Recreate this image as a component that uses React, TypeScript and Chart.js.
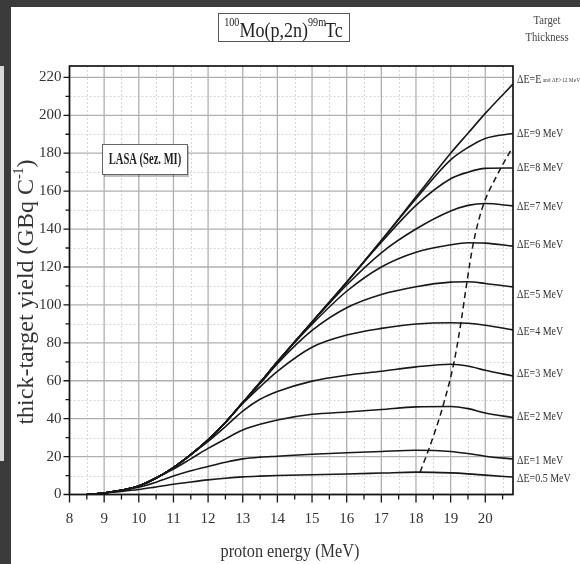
import React, { useEffect, useRef } from "react";
import { Chart, registerables } from "chart.js";

Chart.register(...registerables);

// ---- data ----
const energy = [8.5, 9, 9.5, 10, 10.5, 11, 11.5, 12, 12.5, 13, 13.5, 14, 15, 16, 17, 18, 19, 19.5, 20, 20.8];

const yieldFull = [0, 0.8, 2.2, 4.5, 8.7, 14.2, 21, 28.8, 38, 48.5, 59, 70, 91, 112, 134, 157, 180, 190.5, 201, 216.5];
const yield9 = [0, 0.8, 2.2, 4.5, 8.7, 14.2, 21, 28.8, 38, 48.5, 59, 70, 91, 112, 134, 156, 176.5, 183, 187.8, 190.4];
const yield8 = [0, 0.8, 2.2, 4.5, 8.7, 14.2, 21, 28.8, 38, 48.5, 59, 70, 91, 112, 133, 152.5, 166.5, 170, 172, 172.2];
const yield7 = [0, 0.8, 2.2, 4.5, 8.7, 14.2, 21, 28.8, 38, 48.5, 59, 70, 90.8, 110.5, 127.5, 140, 149.5, 152.5, 153.5, 152.2];
const yield6 = [0, 0.8, 2.2, 4.5, 8.7, 14.2, 21, 28.8, 38, 48.5, 59, 70, 89.8, 107.2, 120, 127.8, 131.7, 132.8, 132.6, 131];
const yield5 = [0, 0.8, 2.2, 4.5, 8.7, 14.2, 21, 28.8, 38, 48.5, 58.5, 69, 86.5, 98.5, 105.5, 109.6, 112, 112.2, 111.3, 109.5];
const yield4 = [0, 0.8, 2.2, 4.5, 8.7, 14.2, 21, 28.8, 38, 48, 56.8, 65, 77.7, 84.1, 87.6, 89.9, 90.6, 90.3, 89.3, 86.8];
const yield3 = [0, 0.8, 2.2, 4.5, 8.7, 14.2, 21, 28, 35.8, 44, 50.2, 54.3, 59.8, 62.9, 65, 67.3, 68.7, 67.8, 65.5, 62.5];
const yield2 = [0, 0.8, 2.2, 4.5, 8.7, 13.4, 18.8, 24.3, 29.3, 34, 37, 39.3, 42.3, 43.5, 44.8, 46.2, 46.4, 45.3, 43, 40.6];
const yield1 = [0, 0.8, 2.2, 3.8, 6.5, 9.7, 12.5, 14.8, 17, 18.8, 19.7, 20.2, 21.2, 22, 22.7, 23.3, 22.7, 21.6, 20.2, 18.7];
const yield05 = [0, 0.8, 1.6, 2.6, 4, 5.4, 6.6, 7.7, 8.6, 9.3, 9.7, 10, 10.4, 10.8, 11.3, 11.8, 11.4, 10.9, 10.2, 9.2];

const seriesValues = [yieldFull, yield9, yield8, yield7, yield6, yield5, yield4, yield3, yield2, yield1, yield05];
const seriesLabels = ["ΔE=E", "ΔE=9 MeV", "ΔE=8 MeV", "ΔE=7 MeV", "ΔE=6 MeV", "ΔE=5 MeV", "ΔE=4 MeV", "ΔE=3 MeV", "ΔE=2 MeV", "ΔE=1 MeV", "ΔE=0.5 MeV"];
const labelYields = [219, 190.4, 172.4, 152, 131.7, 105.3, 85.8, 63.7, 41.1, 17.9, 8.1];
const fullLabelNote = " and ΔE>12 MeV";

// locus of the maxima (dashed)
const maxEnergy = [18.12, 18.45, 18.8, 19.1, 19.3, 19.47, 19.66, 19.93, 20.3, 20.75];
const maxYield = [11.8, 28, 48, 70, 91, 112, 133, 152, 167, 182];

// axes / ticks
const xMin = 8;
const xMax = 20.8;
const yMin = 0;
const yMax = 226;
const xMajorTicks = [8, 9, 10, 11, 12, 13, 14, 15, 16, 17, 18, 19, 20];
const xMinorTicks = [8.5, 9.5, 10.5, 11.5, 12.5, 13.5, 14.5, 15.5, 16.5, 17.5, 18.5, 19.5, 20.5];
const yMajorTicks = [0, 20, 40, 60, 80, 100, 120, 140, 160, 180, 200, 220];
const yMinorTicks = [10, 30, 50, 70, 90, 110, 130, 150, 170, 190, 210];

const titleParts = ["100", "Mo(p,2n)", "99m", "Tc"];
const xTitle = "proton energy (MeV)";
const yTitleMain = "thick-target yield (GBq C";
const yTitleSup = "-1";
const yTitleEnd = ")";
const cornerTitle = ["Target", "Thickness"];
const boxNote = "LASA (Sez. MI)";

const FONT = '"Liberation Serif", "Times New Roman", serif';

function drawText(
  ctx: CanvasRenderingContext2D,
  s: string,
  x: number,
  y: number,
  size: number,
  opts: { align?: CanvasTextAlign; baseline?: CanvasTextBaseline; bold?: boolean; sx?: number; color?: string } = {}
) {
  const sx = opts.sx ?? 1;
  ctx.save();
  ctx.font = `${opts.bold ? "bold " : ""}${size}px ${FONT}`;
  ctx.textAlign = opts.align ?? "left";
  ctx.textBaseline = opts.baseline ?? "alphabetic";
  ctx.fillStyle = opts.color ?? "#333";
  ctx.translate(x, y);
  ctx.scale(sx, 1);
  ctx.fillText(s, 0, 0);
  ctx.restore();
}

function textWidth(ctx: CanvasRenderingContext2D, s: string, size: number, sx = 1, bold = false) {
  ctx.save();
  ctx.font = `${bold ? "bold " : ""}${size}px ${FONT}`;
  const w = ctx.measureText(s).width * sx;
  ctx.restore();
  return w;
}

const decorPlugin = {
  id: "decor",
  beforeDatasetsDraw(chart: any) {
    const { ctx, chartArea: a, scales } = chart;
    const xs = scales.x;
    const ys = scales.y;
    ctx.save();
    // minor grid
    ctx.strokeStyle = "#d6d6d6";
    ctx.lineWidth = 1;
    ctx.setLineDash([2, 2]);
    ctx.beginPath();
    for (const v of xMinorTicks) {
      const px = Math.round(xs.getPixelForValue(v)) + 0.5;
      ctx.moveTo(px, a.top);
      ctx.lineTo(px, a.bottom);
    }
    for (const v of yMinorTicks) {
      const py = Math.round(ys.getPixelForValue(v)) + 0.5;
      ctx.moveTo(a.left, py);
      ctx.lineTo(a.right, py);
    }
    ctx.stroke();
    // major grid
    ctx.setLineDash([]);
    ctx.strokeStyle = "#b0b0b0";
    ctx.lineWidth = 1.3;
    ctx.beginPath();
    for (const v of xMajorTicks) {
      const px = xs.getPixelForValue(v);
      ctx.moveTo(px, a.top);
      ctx.lineTo(px, a.bottom);
    }
    for (const v of yMajorTicks) {
      const py = ys.getPixelForValue(v);
      ctx.moveTo(a.left, py);
      ctx.lineTo(a.right, py);
    }
    ctx.stroke();
    ctx.restore();
  },
  afterDraw(chart: any) {
    const { ctx, chartArea: a, scales } = chart;
    const xs = scales.x;
    const ys = scales.y;
    ctx.save();
    // frame
    ctx.strokeStyle = "#151515";
    ctx.lineWidth = 1.7;
    ctx.strokeRect(a.left, a.top, a.right - a.left, a.bottom - a.top);
    // tick marks
    ctx.lineWidth = 1.3;
    ctx.beginPath();
    for (const v of xMajorTicks) {
      const px = xs.getPixelForValue(v);
      ctx.moveTo(px, a.bottom);
      ctx.lineTo(px, a.bottom + 8);
    }
    for (const v of xMinorTicks) {
      const px = xs.getPixelForValue(v);
      ctx.moveTo(px, a.bottom);
      ctx.lineTo(px, a.bottom + 5);
    }
    for (const v of yMajorTicks) {
      const py = ys.getPixelForValue(v);
      ctx.moveTo(a.left - 6, py);
      ctx.lineTo(a.left, py);
    }
    for (const v of yMinorTicks) {
      const py = ys.getPixelForValue(v);
      ctx.moveTo(a.left - 4, py);
      ctx.lineTo(a.left, py);
    }
    ctx.stroke();

    // right-hand curve labels
    seriesLabels.forEach((lab, i) => {
      const py = ys.getPixelForValue(labelYields[i]);
      const lx = a.right + 4;
      drawText(ctx, lab, lx, py, 12.5, { baseline: "middle", sx: 0.8, color: "#333" });
      if (i === 0) {
        const w = textWidth(ctx, lab, 12.5, 0.8);
        drawText(ctx, fullLabelNote, lx + w, py + 1, 5.5, { baseline: "middle", color: "#444" });
      }
    });

    // main title box
    ctx.fillStyle = "#fff";
    ctx.fillRect(218.5, 13.5, 131, 28);
    ctx.strokeStyle = "#555";
    ctx.lineWidth = 1;
    ctx.strokeRect(218.5, 13.5, 131, 28);
    const big = 20.5, small = 11.5, sxT = 0.88;
    const widths = [
      textWidth(ctx, titleParts[0], small, sxT),
      textWidth(ctx, titleParts[1], big, sxT),
      textWidth(ctx, titleParts[2], small, sxT),
      textWidth(ctx, titleParts[3], big, sxT),
    ];
    let tx = 284 - (widths[0] + widths[1] + widths[2] + widths[3]) / 2;
    drawText(ctx, titleParts[0], tx, 26, small, { sx: sxT, color: "#222" });
    tx += widths[0];
    drawText(ctx, titleParts[1], tx, 37, big, { sx: sxT, color: "#222" });
    tx += widths[1];
    drawText(ctx, titleParts[2], tx, 26, small, { sx: sxT, color: "#222" });
    tx += widths[2];
    drawText(ctx, titleParts[3], tx - 1, 37, big, { sx: sxT, color: "#222" });

    // corner title
    drawText(ctx, cornerTitle[0], 547, 21, 12.5, { align: "center", baseline: "middle", sx: 0.85, color: "#444" });
    drawText(ctx, cornerTitle[1], 547, 38, 12.5, { align: "center", baseline: "middle", sx: 0.85, color: "#444" });

    // LASA box
    ctx.fillStyle = "rgba(0,0,0,0.25)";
    ctx.fillRect(104, 146, 85, 31);
    ctx.fillStyle = "#fff";
    ctx.fillRect(102.5, 144.5, 85, 30);
    ctx.strokeStyle = "#666";
    ctx.lineWidth = 1;
    ctx.strokeRect(102.5, 144.5, 85, 30);
    drawText(ctx, boxNote, 145, 160, 16, { align: "center", baseline: "middle", bold: true, sx: 0.66, color: "#222" });

    // x title
    drawText(ctx, xTitle, 290, 552, 18.5, { align: "center", baseline: "middle", sx: 0.88, color: "#333" });

    // y title (rotated)
    ctx.save();
    ctx.translate(25, 292);
    ctx.rotate(-Math.PI / 2);
    const ySize = 24, ySup = 14;
    const w1 = textWidth(ctx, yTitleMain, ySize);
    const w2 = textWidth(ctx, yTitleSup, ySup);
    const w3 = textWidth(ctx, yTitleEnd, ySize);
    let ox = -(w1 + w2 + w3) / 2;
    drawText(ctx, yTitleMain, ox, 8, ySize, { color: "#333" });
    ox += w1;
    drawText(ctx, yTitleSup, ox, -2, ySup, { color: "#333" });
    ox += w2;
    drawText(ctx, yTitleEnd, ox, 8, ySize, { color: "#333" });
    ctx.restore();

    ctx.restore();
  },
};

export default function App() {
  const canvasRef = useRef<HTMLCanvasElement | null>(null);

  useEffect(() => {
    const canvas = canvasRef.current;
    if (!canvas) return;
    const datasets: any[] = seriesValues.map((vals, i) => ({
      label: seriesLabels[i],
      data: energy.map((e, j) => ({ x: e, y: vals[j] })),
      borderColor: "#181818",
      borderWidth: 1.6,
      pointRadius: 0,
      fill: false,
      cubicInterpolationMode: "monotone",
    }));
    datasets.push({
      label: "max",
      data: maxEnergy.map((e, j) => ({ x: e, y: maxYield[j] })),
      borderColor: "#181818",
      borderWidth: 1.5,
      borderDash: [6, 4],
      pointRadius: 0,
      fill: false,
      cubicInterpolationMode: "monotone",
    });

    const chart = new Chart(canvas, {
      type: "line",
      data: { datasets },
      options: {
        animation: false,
        responsive: false,
        devicePixelRatio: 1,
        layout: { padding: { top: 66, right: 67, left: 0, bottom: 0 } },
        plugins: {
          legend: { display: false },
          tooltip: { enabled: false },
          title: { display: false },
        },
        scales: {
          x: {
            type: "linear",
            min: xMin,
            max: xMax,
            afterFit: (s: any) => {
              s.height = 69.5;
            },
            grid: { display: false, drawTicks: false },
            border: { display: false },
            ticks: {
              stepSize: 1,
              includeBounds: false,
              autoSkip: false,
              maxRotation: 0,
              padding: 16,
              color: "#333",
              font: { family: FONT, size: 15 },
              callback: (v: any) => (xMajorTicks.includes(Number(v)) ? String(v) : ""),
            },
          },
          y: {
            type: "linear",
            min: yMin,
            max: yMax,
            afterFit: (s: any) => {
              s.width = 69.5;
            },
            grid: { display: false, drawTicks: false },
            border: { display: false },
            ticks: {
              stepSize: 20,
              includeBounds: false,
              autoSkip: false,
              padding: 8,
              color: "#333",
              font: { family: FONT, size: 15 },
              callback: (v: any) => (yMajorTicks.includes(Number(v)) ? String(v) : ""),
            },
          },
        },
      } as any,
      plugins: [decorPlugin],
    });
    return () => chart.destroy();
  }, []);

  return (
    <div
      style={{
        position: "fixed",
        left: 0,
        top: 0,
        width: 580,
        height: 564,
        background: "#3b3b3b",
        overflow: "hidden",
      }}
    >
      <div style={{ position: "absolute", left: 11, top: 7, right: 0, bottom: 0, background: "#fff" }} />
      <div style={{ position: "absolute", left: 0, top: 66, width: 4, height: 395, background: "#d8d8d8" }} />
      <canvas
        ref={canvasRef}
        width={580}
        height={564}
        style={{ position: "absolute", left: 0, top: 0, width: 580, height: 564 }}
      />
    </div>
  );
}
